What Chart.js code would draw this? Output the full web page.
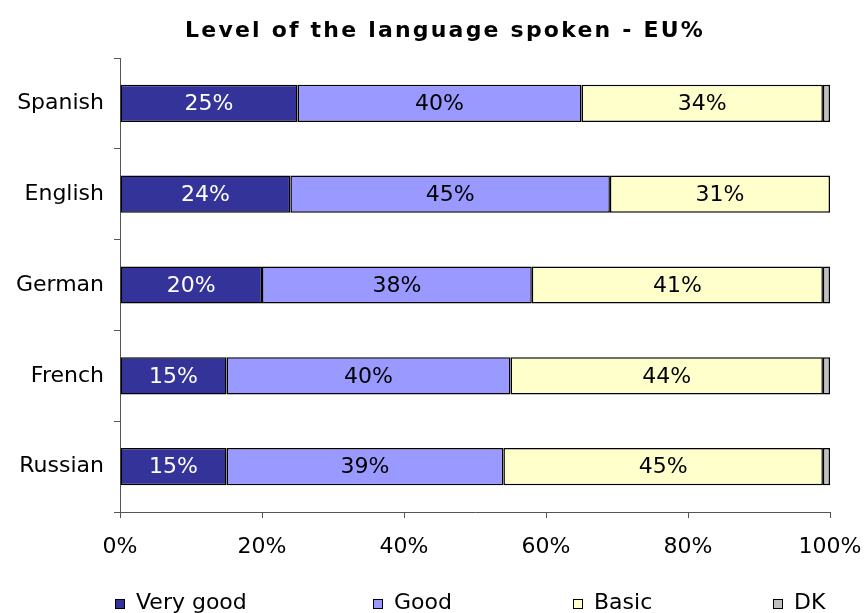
<!DOCTYPE html>
<html>
<head>
<meta charset="utf-8">
<script src="https://cdn.jsdelivr.net/npm/chart.js@4/dist/chart.umd.min.js"></script>
<style>
  html, body { margin: 0; padding: 0; background: #fff; overflow: hidden; }
  #wrap { position: relative; width: 865px; height: 613px; overflow: hidden; }
  #title {
    position: absolute; left: 0; top: 18px; width: 890px; text-align: center;
    font-family: "DejaVu Sans", Verdana, sans-serif; font-weight: bold;
    font-size: 22px; line-height: 24px; letter-spacing: 2.2px; color: #000;
  }
  #legend .item {
    position: absolute; top: 589px; display: flex; align-items: center; white-space: nowrap;
    font-family: "DejaVu Sans", Verdana, sans-serif; font-size: 22px; line-height: 26px; color: #000;
  }
  #legend .box {
    display: inline-block; width: 8px; height: 8px; margin-top: 3px;
    border: 1.5px solid #000; margin-right: 11px;
  }
</style>
</head>
<body>
<div id="wrap">
  <canvas id="chart" width="865" height="613"></canvas>
  <div id="title">Level of the language spoken - EU%</div>
  <div id="legend"></div>
</div>
<script>
// data
const languages = ["Spanish", "English", "German", "French", "Russian"];
const veryGood = [25, 24, 20, 15, 15];
const good = [40, 45, 38, 40, 39];
const basic = [34, 31, 41, 44, 45];
const dk = [1, 0, 1, 1, 1];
const seriesNames = ["Very good", "Good", "Basic", "DK"];
const seriesColors = ["#333399", "#9999FF", "#FFFFCC", "#C0C0C0"];
const labelColors = ["#FFFFFF", "#000000", "#000000", null];
const xTicks = [0, 20, 40, 60, 80, 100];
const legendLeft = [115, 373, 573, 773];

const font = '"DejaVu Sans", Verdana, sans-serif';

// writes the percentage in the middle of each segment
const segmentLabels = {
    id: "segmentLabels",
    afterDatasetsDraw(chart) {
        const ctx = chart.ctx;
        ctx.save();
        ctx.font = "22px " + font;
        ctx.textAlign = "center";
        ctx.textBaseline = "middle";
        chart.data.datasets.forEach((ds, i) => {
            if (!labelColors[i]) return;
            const meta = chart.getDatasetMeta(i);
            meta.data.forEach((bar, j) => {
                const v = ds.data[j];
                if (!v) return;
                ctx.fillStyle = labelColors[i];
                ctx.fillText(v + "%", (bar.x + bar.base) / 2, bar.y + 1);
            });
        });
        ctx.restore();
    }
};

const allSeries = [veryGood, good, basic, dk];

const chart = new Chart(document.getElementById("chart"), {
    type: "bar",
    data: {
        labels: languages,
        datasets: allSeries.map((d, i) => ({
            label: seriesNames[i],
            data: d,
            backgroundColor: seriesColors[i],
            borderColor: "#000",
            borderWidth: 1.5,
            borderSkipped: false,
            barPercentage: 1,
            categoryPercentage: 0.41
        }))
    },
    options: {
        indexAxis: "y",
        responsive: false,
        animation: false,
        layout: { padding: { left: 0, right: 35, top: 58, bottom: 0 } },
        plugins: {
            legend: { display: false },
            tooltip: { enabled: false },
            title: { display: false }
        },
        scales: {
            x: {
                stacked: true,
                min: 0, max: 100,
                afterBuildTicks: (scale) => { scale.ticks = xTicks.map(v => ({ value: v })); },
                afterFit: (scale) => {
                    scale.height = 101;
                    scale.paddingLeft = 0;
                    scale.paddingRight = 0;
                },
                ticks: {
                    callback: v => v + "%",
                    color: "#000",
                    padding: 16,
                    maxRotation: 0,
                    font: { family: font, size: 22 }
                },
                grid: { drawOnChartArea: false, tickLength: 6, color: "#555", tickColor: "#555" },
                border: { color: "#555", width: 1 }
            },
            y: {
                stacked: true,
                afterFit: (scale) => { scale.width = 120; },
                ticks: {
                    color: "#000",
                    padding: 10,
                    font: { family: font, size: 22 }
                },
                grid: { drawOnChartArea: false, offset: true, tickLength: 6, color: "#555", tickColor: "#555" },
                border: { color: "#555", width: 1 }
            }
        }
    },
    plugins: [segmentLabels]
});

// legend below the chart
const legendEl = document.getElementById("legend");
seriesNames.forEach((name, i) => {
    const item = document.createElement("span");
    item.className = "item";
    item.style.left = legendLeft[i] + "px";
    const box = document.createElement("span");
    box.className = "box";
    box.style.background = seriesColors[i];
    item.appendChild(box);
    item.appendChild(document.createTextNode(name));
    legendEl.appendChild(item);
});
</script>
</body>
</html>
